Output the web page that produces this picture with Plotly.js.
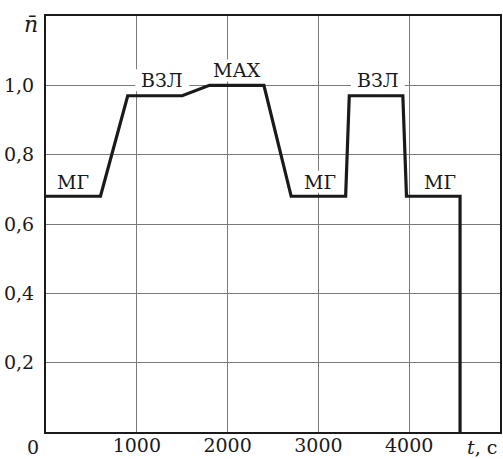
<!DOCTYPE html>
<html>
<head>
<meta charset="utf-8">
<script src="https://cdn.plot.ly/plotly-3.0.1.min.js"></script>
<style>
html,body{margin:0;padding:0;background:#fff;}
#chart{width:503px;height:459px;}
</style>
</head>
<body>
<div id="chart"></div>
<script>
// Time, s
const timeS = [0, 600, 900, 1500, 1800, 2400, 2700, 3300, 3340, 3930, 3970, 4560, 4560];
// Relative rotor speed n̄
const nRel = [0.68, 0.68, 0.97, 0.97, 1.0, 1.0, 0.68, 0.68, 0.97, 0.97, 0.68, 0.68, 0];

const xTickVals = [1000, 2000, 3000, 4000];
const xTickText = ['1000', '2000', '3000', '4000'];
const yTickVals = [0.2, 0.4, 0.6, 0.8, 1.0];
const yTickText = ['0,2', '0,4', '0,6', '0,8', '1,0'];

// Mode labels
const modeText = ['МГ', 'ВЗЛ', 'МАХ', 'МГ', 'ВЗЛ', 'МГ'];
const modeT = [300, 1280, 2100, 3020, 3655, 4335];
const modeN = [0.72, 1.015, 1.043, 0.722, 1.015, 0.72];
// label knock-out box widths (px)
const boxW = [44, 54, 66, 44, 54, 44];

const FONT = 'DejaVu Serif';
const INK = '#1a1a1a';

const annotations = modeText.map((t, i) => ({
  x: modeT[i], y: modeN[i], xref: 'x', yref: 'y',
  text: t, showarrow: false,
  font: {family: FONT, size: 19, color: INK}
}));
const shapes = modeText.map((t, i) => ({
  type: 'rect', layer: 'between',
  xref: 'x', yref: 'y',
  xsizemode: 'pixel', ysizemode: 'pixel',
  xanchor: modeT[i], yanchor: modeN[i],
  x0: -boxW[i] / 2, x1: boxW[i] / 2, y0: -11, y1: 11,
  fillcolor: '#ffffff', line: {width: 0}
}));
annotations.push({
  xref: 'paper', yref: 'paper', x: -0.029, y: -0.036, xanchor: 'center', yanchor: 'middle',
  text: '0', showarrow: false, font: {family: FONT, size: 19, color: INK}
});
annotations.push({
  xref: 'paper', yref: 'paper', x: 0.96, y: -0.036, xanchor: 'center', yanchor: 'middle',
  text: '<i>t</i>, с', showarrow: false, font: {family: FONT, size: 19, color: INK}
});
annotations.push({
  xref: 'paper', yref: 'paper', x: -0.033, y: 0.98, xanchor: 'center', yanchor: 'middle',
  text: '<i>n\u0304</i>', showarrow: false, font: {family: FONT, size: 22, color: INK}
});

const trace = {
  x: timeS, y: nRel, type: 'scatter', mode: 'lines',
  line: {color: INK, width: 3.2}, hoverinfo: 'skip'
};

const layout = {
  width: 503, height: 459,
  margin: {l: 46, r: 3, t: 16, b: 27},
  paper_bgcolor: '#ffffff', plot_bgcolor: '#ffffff',
  showlegend: false,
  font: {family: FONT, size: 19, color: INK},
  xaxis: {
    range: [0, 5000], tickvals: xTickVals, ticktext: xTickText,
    showgrid: true, gridcolor: '#7a7a7a', gridwidth: 1,
    zeroline: false, showline: true, linecolor: INK, linewidth: 2, mirror: true,
    ticks: '', ticklabelstandoff: -5, fixedrange: true,
    tickfont: {family: FONT, size: 19, color: INK}
  },
  yaxis: {
    range: [0, 1.2], tickvals: yTickVals, ticktext: yTickText,
    showgrid: true, gridcolor: '#7a7a7a', gridwidth: 1,
    zeroline: false, showline: true, linecolor: INK, linewidth: 2, mirror: true,
    ticks: '', ticklabelstandoff: 6, fixedrange: true,
    tickfont: {family: FONT, size: 19, color: INK}
  },
  shapes: shapes,
  annotations: annotations
};

Plotly.newPlot('chart', [trace], layout, {displayModeBar: false, staticPlot: true});
</script>
</body>
</html>
